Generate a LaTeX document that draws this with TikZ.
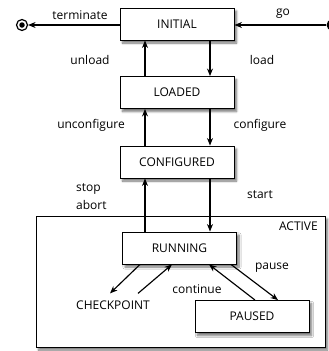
\documentclass[tikz,border=0pt]{standalone}
\usepackage{fontspec}
\setmainfont{Open Sans}
\usetikzlibrary{arrows.meta,shadows.blur}
\begin{document}
\begin{tikzpicture}[x=1pt,y=-1pt,
  txt/.style={font=\fontsize{12}{13}\selectfont, inner sep=1pt},
  shade/.style={blur shadow={shadow xshift=2.5pt, shadow yshift=-3pt, shadow blur steps=7, shadow opacity=55}},
  state/.style={draw, line width=0.9pt, fill=white, minimum width=114pt, minimum height=32pt, shade, txt},
  tr/.style={-{Stealth[length=7.5pt,width=6pt]}, line width=1.15pt},
]
\useasboundingbox (0,0) rectangle (329,351);

% composite state holding the running/paused states
\node[draw, line width=0.9pt, fill=white, minimum width=289pt, minimum height=131pt, shade] (active) at (180.5,281.5) {};
\node[txt, anchor=north east] (activelbl) at (319,221) {ACTIVE};

% states
\node[state] (init)   at (177,24)    {INITIAL};
\node[state] (loaded) at (177,92.5)  {LOADED};
\node[state] (conf)   at (177,162)   {CONFIGURED};
\node[state] (run)    at (179.5,248) {RUNNING};
\node[state] (paused) at (252,316.5) {PAUSED};
\node[txt] (chk) at (113,305) {CHECKPOINT};

% pseudo-states
\node[circle, draw, line width=1.2pt, minimum size=11pt, inner sep=0pt] (final) at (22,25) {};
\node[circle, fill, minimum size=5.5pt, inner sep=0pt] (finaldot) at (final.center) {};
\node[circle, fill, minimum size=11pt, inner sep=0pt] (start) at (332,25) {};

% vertical guide lines
\coordinate (xl) at (145,0);
\coordinate (xr) at (210,0);

% transitions
\draw[tr] (start.west) -- (init.east |- start.west);
\draw[tr] (init.west |- final.east) -- (final.east);
\draw[tr] (init.south -| xr) -- (loaded.north -| xr);
\draw[tr] (loaded.north -| xl) -- (init.south -| xl);
\draw[tr] (loaded.south -| xr) -- (conf.north -| xr);
\draw[tr] (conf.north -| xl) -- (loaded.south -| xl);
\draw[tr] (conf.south -| xr) -- (run.north -| xr);
\draw[tr] (run.north -| xl) -- (conf.south -| xl);
\draw[tr] ([xshift=-39.5pt]run.south) -- ([xshift=-3pt,yshift=6pt]chk.north);
\draw[tr] ([xshift=25pt,yshift=6pt]chk.north) -- ([xshift=-7.5pt]run.south);
\draw[tr] ([xshift=51.5pt]run.south) -- ([xshift=26pt]paused.north);
\draw[tr] ([xshift=3pt]paused.north) -- ([xshift=29.5pt]run.south);

% transition labels
\node[txt] (lterm) at (80,15) {terminate};
\node[txt] (lgo) at (283,14) {go};
\node[txt] (lunload) at (90,60) {unload};
\node[txt] (lload) at (262,60) {load};
\node[txt] (lunconf) at (91,125) {unconfigure};
\node[txt] (lconf) at (260,125) {configure};
\node[txt, anchor=west] (lstop) at (75,189) {stop};
\node[txt, anchor=west] (labort) at (75,205) {abort};
\node[txt] (lstart) at (260,195) {start};
\node[txt] (lpause) at (272,268) {pause};
\node[txt] (lcont) at (197,289) {continue};
\end{tikzpicture}
\end{document}
